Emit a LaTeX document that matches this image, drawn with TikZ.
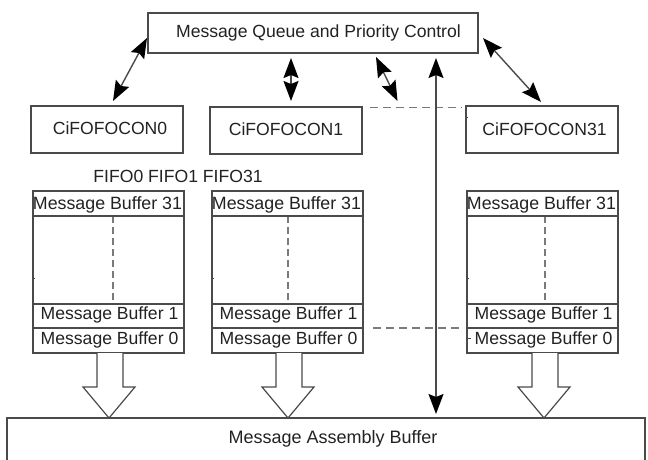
\documentclass[tikz,border=0pt]{standalone}
\usepackage{fontspec}
\setmainfont{Liberation Sans}
\usetikzlibrary{arrows.meta}
\definecolor{ink}{HTML}{4A4A4A}
\definecolor{txt}{HTML}{222222}
\definecolor{dashc}{HTML}{7A7A7A}
\tikzset{
  x=1pt,y=-1pt,
  every node/.style={font=\fontsize{17.6}{20}\selectfont,text=txt,inner sep=0pt,outer sep=0pt},
  box/.style={draw=ink,line width=1.2pt,rectangle,anchor=north west,fill=white},
  conbox/.style={box,minimum width=152pt,minimum height=47pt},
  stackbox/.style={box,minimum width=151pt,minimum height=162pt},
  rowtext/.style={anchor=center},
  dbl/.style={draw=ink,line width=1.4pt,{Stealth[length=20pt,width=15pt,inset=3pt,color=black]}-{Stealth[length=20pt,width=15pt,inset=3pt,color=black]}},
  dashline/.style={draw=dashc,line width=1.3pt,dash pattern=on 8pt off 5pt},
  rowline/.style={draw=ink,line width=1.2pt},
  blockarrow/.style={draw=ink,line width=1.2pt,fill=white,line join=miter},
  tick/.style={draw=ink,line width=.7pt}
}
\newcommand{\blockarrow}[2]{\draw[blockarrow] ([xshift=#2]#1.south) -- ++(0,34) -- ++(-14,0) -- ++(26,31) -- ++(26,-31) -- ++(-12,0) -- ++(0,-34);}
\newcommand{\stackrows}[1]{%
  \draw[rowline] ([yshift=-25pt]#1.north west) -- ([yshift=-25pt]#1.north east);
  \draw[rowline] ([yshift=49pt]#1.south west) -- ([yshift=49pt]#1.south east);
  \draw[rowline] ([yshift=25pt]#1.south west) -- ([yshift=25pt]#1.south east);
  \draw[tick] ([yshift=75pt]#1.south west) -- ++(2,0);
}
\begin{document}
\begin{tikzpicture}
\useasboundingbox (0,0) rectangle (648,460);
\fill[white] (0,0) rectangle (648,460);
% top
\node[box,minimum width=330pt,minimum height=40pt] (queue) at (148,13) {\hspace*{11pt}\raisebox{3pt}{Message Queue and Priority Control}};
\node[conbox] (con0) at (31,106) {\hspace*{6pt}\raisebox{2pt}{CiFOFOCON0}};
\node[conbox] (con1) at (210,107) {\raisebox{3pt}{CiFOFOCON1}};
\node[conbox] (con31) at (466,106) {\hspace*{5pt}CiFOFOCON31};
\node (fifo) at (178,176) {FIFO0 FIFO1 FIFO31};
% stacks
\node[stackbox] (s0) at (33,191) {};
\node[stackbox] (s1) at (212,191) {};
\node[stackbox] (s31) at (467,191) {};
% assembly
\node[minimum width=638pt,minimum height=42pt,anchor=north west,font=\fontsize{18}{20}\selectfont] (asm) at (7,418) {\hspace*{14pt}\raisebox{-3.5pt}{Message Assembly Buffer}};
\draw[rowline] (asm.south west) -- (asm.north west) -- (asm.north east) -- (asm.south east);
% internal dashes
\foreach \s/\xs in {s0/4.5,s1/0.5,s31/2.5}{
  \draw[dashline,dash pattern=on 7pt off 4pt] ([xshift=\xs pt,yshift=-25pt]\s.north) -- ([xshift=\xs pt,yshift=49pt]\s.south);
  \stackrows{\s}
}
% row labels
\foreach \s/\d in {s0/0,s1/0,s31/0}{
  \node[rowtext,font=\fontsize{17.8}{20}\selectfont] (\s top) at ([xshift=-1pt,yshift=-14pt]\s.north) {Message Buffer 31};
  \node[rowtext] (\s one) at ([xshift=1pt,yshift=38pt]\s.south) {Message Buffer 1};
  \node[rowtext] (\s zero) at ([xshift=1pt,yshift=13pt]\s.south) {Message Buffer 0};
}
% block arrows
\blockarrow{s0}{-11.5pt}
\blockarrow{s1}{-11.5pt}
\blockarrow{s31}{-10.5pt}
% dashed links
\draw[dashline] ([xshift=8pt,yshift=23pt]con1.east) -- ([xshift=-4pt,yshift=22pt]con31.west);
\draw[dashline] ([xshift=10pt,yshift=25pt]s1.south east) -- ([xshift=-3pt,yshift=25pt]s31.south west);
\draw[tick] ([yshift=12.5pt]con31.west) -- ++(2,0);
\draw[tick] ([yshift=15pt]s31.south west) -- ++(4,0);
% double arrows
\draw[dbl] ([xshift=-1pt,yshift=-5pt]queue.west) -- ([xshift=6pt,yshift=5pt]con0.north);
\draw[dbl] ([xshift=-22pt,yshift=-5pt]queue.south) -- ([xshift=5pt,yshift=6pt]con1.north);
\draw[dbl] ([xshift=63pt,yshift=-4pt]queue.south) -- ([xshift=-144.5pt,yshift=5pt]con31.north);
\draw[dbl] ([xshift=5pt,yshift=-5pt]queue.east) -- ([xshift=-1pt,yshift=4pt]con31.north);
\draw[dbl] ([xshift=123pt,yshift=-5pt]queue.south) -- ([xshift=110pt,yshift=4pt]asm.north);
\end{tikzpicture}
\end{document}
